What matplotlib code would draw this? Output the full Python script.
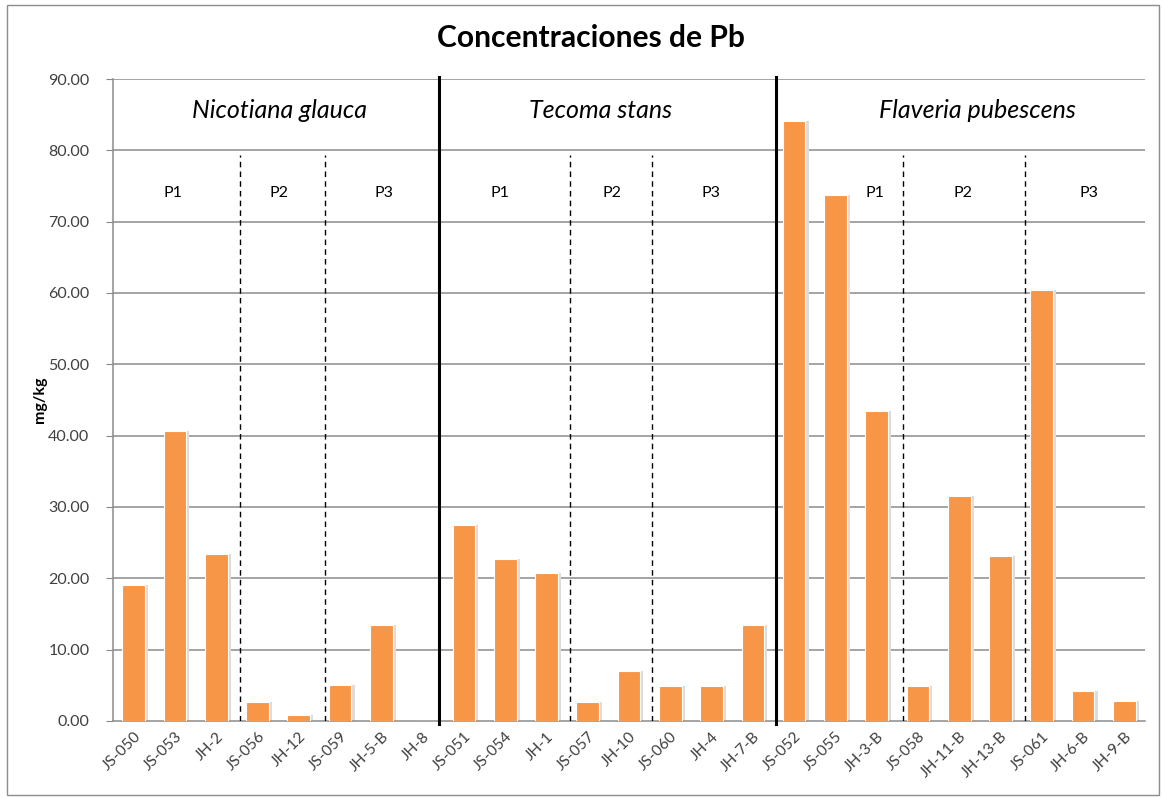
import matplotlib
matplotlib.use("Agg")
import matplotlib.pyplot as plt
from matplotlib.patches import Rectangle

samples = ["JS-050", "JS-053", "JH-2", "JS-056", "JH-12", "JS-059", "JH-5-B", "JH-8",
           "JS-051", "JS-054", "JH-1", "JS-057", "JH-10", "JS-060", "JH-4", "JH-7-B",
           "JS-052", "JS-055", "JH-3-B", "JS-058", "JH-11-B", "JH-13-B", "JS-061", "JH-6-B", "JH-9-B"]
values = [19.1, 40.7, 23.4, 2.7, 0.9, 5.1, 13.5, 0.0,
          27.5, 22.7, 20.8, 2.7, 7.0, 4.9, 4.9, 13.5,
          84.1, 73.7, 43.4, 4.9, 31.6, 23.2, 60.4, 4.2, 2.8]
species = ["Nicotiana glauca", "Tecoma stans", "Flaveria pubescens"]
species_x = [3.54, 11.3, 20.45]
species_sep = [7.4, 15.55]
plot_labels = ["P1", "P2", "P3"] * 3
plot_label_x = [0.95, 3.52, 6.06, 8.87, 11.58, 13.98, 17.95, 20.1, 23.15]
plot_sep = [2.57, 4.63, 10.57, 12.55, 18.64, 21.6]
yticks = [0, 10, 20, 30, 40, 50, 60, 70, 80, 90]

plt.rcParams['font.family'] = ['Lato', 'DejaVu Sans']
fig = plt.figure(figsize=(11.64, 7.98), dpi=100)
ax = fig.add_axes([0.0971, 0.0965, 0.8866, 0.8045])

x = list(range(len(samples)))
# subtle shadow
ax.bar([i + 0.07 for i in x], values, width=0.56, color="#dcdcdc", zorder=2, linewidth=0)
ax.bar(x, values, width=0.55, color="#F79646", edgecolor="white", linewidth=0.8, zorder=3)

ax.set_xlim(-0.5, len(samples) - 0.5)
ax.set_ylim(0, 90)
ax.set_yticks(yticks)
ax.set_yticklabels([f"{v:.2f}" for v in yticks], fontsize=11.5, color="#404040")
ax.set_xticks(x)
ax.set_xticklabels(samples, rotation=45, ha="right", rotation_mode="anchor",
                   fontsize=11.2, color="#404040")
ax.tick_params(axis="x", length=0, pad=6)
ax.tick_params(axis="y", length=5, color="#868686", pad=12)

for v in yticks[1:]:
    ax.axhline(v, color="#8c8c8c", linewidth=1.1, zorder=1)

for s in ["top", "right"]:
    ax.spines[s].set_visible(False)
ax.spines["left"].set_color("#8c8c8c")
ax.spines["bottom"].set_color("#8c8c8c")
ax.spines["left"].set_linewidth(1.1)
ax.spines["bottom"].set_linewidth(1.1)

for sx in species_sep:
    ax.plot([sx, sx], [-0.4, 90.3], color="black", linewidth=2.2, zorder=5, clip_on=False)
for px in plot_sep:
    ax.plot([px, px], [0, 79.4], color="black", linewidth=1.0, linestyle=(0, (4, 3)), zorder=5)

for sx, name in zip(species_x, species):
    ax.text(sx, 85.6, name, ha="center", va="center", fontsize=18, style="italic", color="black", zorder=6)
for px, name in zip(plot_label_x, plot_labels):
    ax.text(px, 74.0, name, ha="center", va="center", fontsize=11.5, color="black", zorder=6)

ax.set_ylabel("mg/kg", fontsize=11.5, fontweight="bold", labelpad=1)
fig.text(0.508, 0.952, "Concentraciones de Pb", ha="center", va="center",
         fontsize=21.6, fontweight="bold")

fig.patches.append(Rectangle((0.006, 0.004), 0.99, 0.99, transform=fig.transFigure,
                             fill=False, edgecolor="#8c8c8c", linewidth=1.0))

fig.savefig("out.png", dpi=100)
